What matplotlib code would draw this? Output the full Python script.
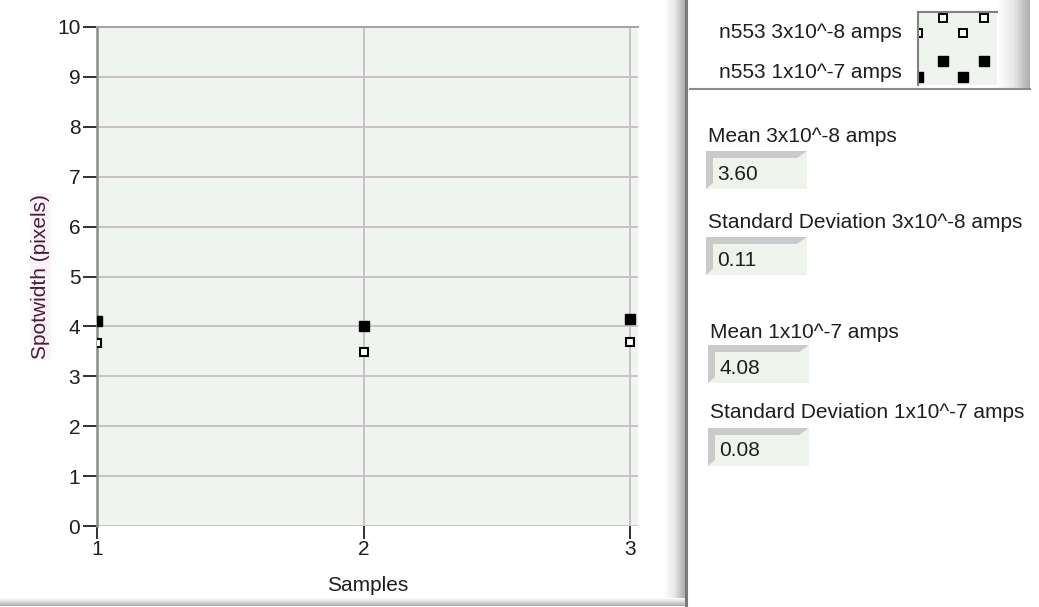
import matplotlib
matplotlib.use("Agg")
import matplotlib.pyplot as plt
from matplotlib.patches import Rectangle, Polygon
from matplotlib.colors import LinearSegmentedColormap
import numpy as np

# ---------------- data ----------------
samples = [1, 2, 3]
spot_3e8 = [3.66, 3.48, 3.68]
spot_1e7 = [4.10, 4.00, 4.14]
series_labels = ["n553 3x10^-8 amps", "n553 1x10^-7 amps"]
indicator_labels = ["Mean 3x10^-8 amps", "Standard Deviation 3x10^-8 amps",
                    "Mean 1x10^-7 amps", "Standard Deviation 1x10^-7 amps"]
indicator_values = ["3.60", "0.11", "4.08", "0.08"]
y_ticks = list(range(0, 11))
x_ticks = [1, 2, 3]
x_label = "Samples"
y_label = "Spotwidth (pixels)"

FONT = "Liberation Sans"
FS = 15
TXT = "#1e1e1e"
W, H = 1039, 607
fig = plt.figure(figsize=(W / 100, H / 100), dpi=100)
fig.patch.set_facecolor("white")

# overlay axes in pixel coordinates for the panel decorations
bg = fig.add_axes([0, 0, 1, 1], zorder=0)
bg.set_xlim(0, W)
bg.set_ylim(H, 0)
bg.axis("off")


def fx(px):
    return px / W


def fy(py):
    return 1 - py / H


# ---------------- main graph ----------------
ax = fig.add_axes([fx(97), fy(526), fx(638) - fx(97), fy(27) - fy(526)], zorder=2)
ax.set_facecolor("#f0f4ef")
ax.set_xlim(1, 3.03)
ax.set_ylim(0, 10)
ax.set_xticks(x_ticks)
ax.set_yticks(y_ticks)
ax.grid(True, color="#cbc0cb", lw=1.4)
ax.set_axisbelow(True)
for s in ["right", "bottom"]:
    ax.spines[s].set_visible(False)
ax.spines["left"].set_color("#8c8c8c")
ax.spines["left"].set_linewidth(1.8)
ax.spines["top"].set_color("#a8a0a8")
ax.spines["top"].set_linewidth(1.4)
ax.tick_params(axis="both", direction="out", width=1.4, color="#303030",
               labelsize=FS, labelcolor=TXT)
ax.tick_params(axis="y", length=10, pad=2)
ax.tick_params(axis="x", length=9, pad=1)
for lab in ax.get_xticklabels() + ax.get_yticklabels():
    lab.set_fontfamily(FONT)

ax.plot(samples, spot_1e7, ls="none", marker="s", ms=6.5, color="black",
        zorder=5, label=series_labels[1])
ax.plot(samples, spot_3e8, ls="none", marker="s", ms=6, mfc="white", mec="black",
        mew=1.5, zorder=5, label=series_labels[0])

ax.set_xlabel(x_label, fontfamily=FONT, fontsize=FS, color=TXT, labelpad=12)
ax.set_ylabel(y_label, fontfamily=FONT, fontsize=FS, color="#4a1a3a", labelpad=5,
              bbox=dict(facecolor="#fbf3fb", edgecolor="none", pad=1))

# ---------------- bevels ----------------
grad = np.linspace(0, 1, 64)[None, :]
cm_v = LinearSegmentedColormap.from_list("bev", ["#ffffff", "#e8e8e8", "#adadad"])
bg.imshow(grad, cmap=cm_v, extent=[664, 685, 600, 0], aspect="auto", zorder=1)
bg.plot([686, 686], [0, 607], color="#7a7a7a", lw=2.2, zorder=2)
cm_h = LinearSegmentedColormap.from_list("bevh", ["#ffffff", "#d8d8d8", "#a8a8a8"])
bg.imshow(grad.T, cmap=cm_h, extent=[0, 685, 606, 598], aspect="auto", zorder=1)

# legend box bevel
bg.imshow(grad, cmap=cm_v, extent=[997, 1030, 88, 0], aspect="auto", zorder=1)
bg.plot([690, 1030], [88.5, 88.5], color="#8a8a8a", lw=1.5, zorder=2)

# ---------------- legend ----------------
bg.text(902, 32, series_labels[0], ha="right", va="center", fontfamily=FONT,
        fontsize=FS, color=TXT)
bg.text(902, 72, series_labels[1], ha="right", va="center", fontfamily=FONT,
        fontsize=FS, color=TXT)
lax = fig.add_axes([fx(918), fy(85), fx(997) - fx(918), fy(12) - fy(85)], zorder=3)
lax.set_facecolor("#f0f4ef")
lax.set_xlim(0, 1)
lax.set_ylim(0, 1)
lax.set_xticks([])
lax.set_yticks([])
for s in lax.spines.values():
    s.set_visible(False)
for s in ["left", "top"]:
    lax.spines[s].set_visible(True)
    lax.spines[s].set_color("#808080")
    lax.spines[s].set_linewidth(1.5)
leg_x = [0.0, 0.32, 0.57, 0.84]
leg_hollow_y = [0.71, 0.92, 0.71, 0.92]
leg_filled_y = [0.11, 0.33, 0.11, 0.33]
lax.plot(leg_x, leg_hollow_y, ls="none", marker="s", ms=5.5, mfc="white", mec="black", mew=1.4)
lax.plot(leg_x, leg_filled_y, ls="none", marker="s", ms=6.5, color="black")

# ---------------- indicators ----------------
label_y = [137, 223, 332, 412]
box_top = [151, 237, 345, 428]
box_left = [706, 706, 708, 708]
for lab, val, ly, bt, bl in zip(indicator_labels, indicator_values, label_y, box_top, box_left):
    bg.text(bl + 2, ly, lab, ha="left", va="center", fontfamily=FONT, fontsize=FS,
            color=TXT, zorder=3)
    bw, bh = 101, 38
    bg.add_patch(Rectangle((bl, bt), bw, bh, facecolor="#eef3ec", edgecolor="none", zorder=2))
    bg.add_patch(Polygon([(bl, bt), (bl + bw, bt), (bl + bw - 10, bt + 7), (bl + 7, bt + 7),
                          (bl + 7, bt + bh - 6), (bl, bt + bh)], closed=True,
                         facecolor="#cacaca", edgecolor="none", zorder=2.5))
    bg.text(bl + 11, bt + 23, val, ha="left", va="center", fontfamily=FONT,
            fontsize=FS, color=TXT, zorder=3)

fig.savefig("out.png", dpi=100, facecolor="white")
